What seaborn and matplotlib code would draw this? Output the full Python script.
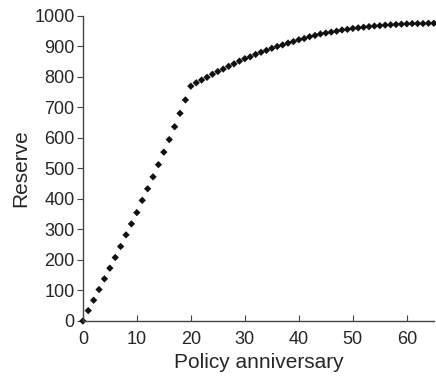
import matplotlib
matplotlib.use("Agg")
import matplotlib.pyplot as plt
import seaborn as sns
import pandas as pd

# reserve at each policy anniversary
anniversary = list(range(0, 66))
reserve = [0, 34, 68, 103, 138, 173, 208, 244, 282, 318,
           355, 395, 433, 472, 512, 553, 594, 636, 680, 724,
           769, 780, 789, 798, 808, 817, 825, 834, 842, 851,
           859, 865, 873, 880, 886, 893, 899, 904, 910, 915,
           921, 925, 931, 935, 940, 943, 946, 949, 953, 955,
           958, 960, 962, 964, 966, 967, 969, 970, 971, 972,
           973, 974, 974, 974, 975, 975]
x_ticks = [0, 10, 20, 30, 40, 50, 60]
y_ticks = [0, 100, 200, 300, 400, 500, 600, 700, 800, 900, 1000]

df = pd.DataFrame({"Policy anniversary": anniversary, "Reserve": reserve})

sns.set_style("ticks")
plt.rcParams['font.family'] = ['Liberation Sans', 'DejaVu Sans']

fig = plt.figure(figsize=(4.36, 3.81), dpi=100)
ax = fig.add_axes([0.19, 0.1575, 0.805, 0.8015])
sns.scatterplot(data=df, x="Policy anniversary", y="Reserve", marker="D",
                s=14, color="#111111", edgecolor="none", ax=ax, clip_on=False)

ax.set_xlim(0, 65)
ax.set_ylim(0, 1000)
ax.set_xticks(x_ticks)
ax.set_yticks(y_ticks)
ax.tick_params(axis="x", direction="in", length=4, labelsize=13, pad=7, color="#444444")
ax.tick_params(axis="y", direction="out", length=4, labelsize=13, pad=2, color="#444444")
ax.set_xlabel("Policy anniversary", fontsize=15, labelpad=4)
ax.set_ylabel("Reserve", fontsize=15, labelpad=3)
for side in ["top", "right"]:
    ax.spines[side].set_visible(False)
for side in ["left", "bottom"]:
    ax.spines[side].set_color("#444444")
    ax.spines[side].set_linewidth(1.0)

fig.savefig("out.png", dpi=100)
